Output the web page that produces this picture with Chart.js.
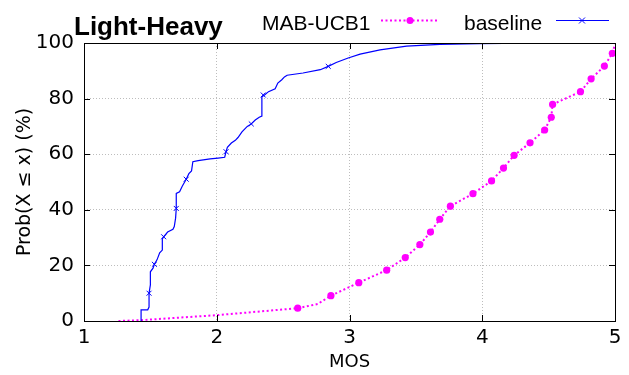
<!DOCTYPE html>
<html>
<head>
<meta charset="utf-8">
<script src="https://cdn.jsdelivr.net/npm/chart.js@4"></script>
<style>
  html, body { margin: 0; padding: 0; background: #fff; }
  #wrap { position: relative; width: 629px; height: 375px; }
  #wrap canvas { position: absolute; left: 0; top: 0; }
  .txt { position: absolute; white-space: nowrap; color: #000; font-family: 'Liberation Sans', Arial, sans-serif; }
  #titulo { left: 74px; top: 13px; font-size: 26px; line-height: 26px; font-weight: bold; }
  .leg { font-size: 21px; line-height: 21px; top: 12px; }
</style>
</head>
<body>
<div id="wrap">
  <canvas id="grafico" width="629" height="375"></canvas>
  <div class="txt" id="titulo">Light-Heavy</div>
  <div class="txt leg" style="left:262px">MAB-UCB1</div>
  <div class="txt leg" style="left:464px">baseline</div>
</div>
<script>
// eixo
const xTicks = [1, 2, 3, 4, 5]
const yTicks = [0, 20, 40, 60, 80, 100]

// baseline (curva em degraus)
const baseMos  = [1.43, 1.43, 1.48, 1.49, 1.49, 1.50, 1.50, 1.52, 1.53, 1.55, 1.57, 1.59, 1.59, 1.60, 1.63, 1.67, 1.68, 1.69, 1.695, 1.695,
                  1.72, 1.74, 1.77, 1.79, 1.81, 1.82, 1.86, 1.95, 2.01, 2.06, 2.07, 2.08, 2.11, 2.14, 2.16, 2.19, 2.21, 2.23, 2.26, 2.29,
                  2.32, 2.34, 2.34, 2.36, 2.39, 2.44, 2.46, 2.49, 2.51, 2.53, 2.65, 2.78, 2.84, 2.90, 2.99, 3.08, 3.23, 3.43, 3.68, 3.98, 4.53]
const baseProb = [0, 4, 4, 5, 10, 13, 17.7, 19, 20.4, 22, 24.5, 25.5, 29.5, 30.3, 32, 33, 34, 37, 40.5, 45.9,
                  46.5, 48.5, 51, 53, 54, 57.3, 57.7, 58.3, 58.6, 58.9, 60.9, 62.5, 64, 65, 66, 68, 69, 70, 70.9, 72.3,
                  73.3, 73.7, 80.7, 81.3, 82.5, 83.5, 85.6, 86.8, 87.8, 88.4, 89.2, 90.4, 91.6, 93, 94.6, 96, 97.5, 98.9, 99.5, 99.8, 100]
const baseMarcaMos  = [1.49, 1.53, 1.60, 1.695, 1.77, 2.07, 2.26, 2.35, 2.84]
const baseMarcaProb = [10, 20.4, 30.3, 40.5, 51, 60.9, 70.9, 81.3, 91.6]

// MAB-UCB1
const ucbMos  = [1.26, 1.43, 2.0, 2.61, 2.76, 2.86, 3.07, 3.28, 3.42, 3.53, 3.61, 3.68, 3.76, 3.93, 4.07, 4.16, 4.24, 4.36, 4.47, 4.52, 4.53, 4.74, 4.82, 4.92, 4.98, 5.0]
const ucbProb = [0, 0.3, 2.1, 4.6, 6.1, 9.1, 13.8, 18.3, 22.8, 27.5, 32.0, 36.6, 41.3, 45.8, 50.4, 55.0, 59.6, 64.1, 68.7, 73.3, 77.9, 82.5, 87.1, 91.7, 96.3, 99.5]
const ucbMarcaMos  = [2.61, 2.86, 3.07, 3.28, 3.42, 3.53, 3.61, 3.68, 3.76, 3.93, 4.07, 4.16, 4.24, 4.36, 4.47, 4.52, 4.53, 4.74, 4.82, 4.92, 4.98]
const ucbMarcaProb = [4.6, 9.1, 13.8, 18.3, 22.8, 27.5, 32.0, 36.6, 41.3, 45.8, 50.4, 55.0, 59.6, 64.1, 68.7, 73.3, 77.9, 82.5, 87.1, 91.7, 96.3]

const AZUL = '#0000ff'
const MAGENTA = '#ff00ff'
const pares = (xs, ys) => xs.map((x, i) => ({ x, y: ys[i] }))

const molduraPlugin = {
  id: 'moldura',
  afterDraw(chart) {
    const { ctx, chartArea: a, scales } = chart
    ctx.save()
    ctx.strokeStyle = '#000'
    ctx.lineWidth = 1
    ctx.setLineDash([])
    ctx.beginPath()
    for (const v of yTicks) {
      const y = Math.round(scales.y.getPixelForValue(v)) + 0.5
      ctx.moveTo(a.left, y); ctx.lineTo(a.left + 6, y)
      ctx.moveTo(a.right, y); ctx.lineTo(a.right - 6, y)
    }
    for (const v of xTicks) {
      const x = Math.round(scales.x.getPixelForValue(v)) + 0.5
      ctx.moveTo(x, a.bottom); ctx.lineTo(x, a.bottom - 6)
      ctx.moveTo(x, a.top); ctx.lineTo(x, a.top + 6)
    }
    ctx.stroke()
    ctx.strokeRect(Math.round(a.left) + 0.5, Math.round(a.top) + 0.5, Math.round(a.right - a.left), Math.round(a.bottom - a.top))

    // amostras da legenda
    const yl = 20.5
    ctx.strokeStyle = MAGENTA
    ctx.lineWidth = 2
    ctx.setLineDash([2, 2.5])
    ctx.beginPath(); ctx.moveTo(381, yl); ctx.lineTo(438, yl); ctx.stroke()
    ctx.setLineDash([])
    ctx.fillStyle = MAGENTA
    ctx.beginPath(); ctx.arc(410, yl, 3.5, 0, Math.PI * 2); ctx.fill()

    ctx.strokeStyle = AZUL
    ctx.lineWidth = 1
    ctx.beginPath(); ctx.moveTo(556, yl); ctx.lineTo(609, yl); ctx.stroke()
    ctx.beginPath()
    ctx.moveTo(579, yl - 3); ctx.lineTo(585, yl + 3)
    ctx.moveTo(585, yl - 3); ctx.lineTo(579, yl + 3)
    ctx.stroke()
    ctx.restore()
  }
}

const gradeCor = (min, max) => c => (c.tick && (c.tick.value === min || c.tick.value === max)) ? 'rgba(0,0,0,0)' : '#bdbdbd'

new Chart(document.getElementById('grafico'), {
  type: 'scatter',
  data: {
    datasets: [
      { label: 'baseline', data: pares(baseMos, baseProb), showLine: true, borderColor: AZUL, borderWidth: 1.2, pointRadius: 0, fill: false },
      { label: 'baseline-marcas', data: pares(baseMarcaMos, baseMarcaProb), showLine: false, pointStyle: 'crossRot', pointRadius: 3.5, borderColor: AZUL, borderWidth: 1 },
      { label: 'MAB-UCB1', data: pares(ucbMos, ucbProb), showLine: true, borderColor: MAGENTA, borderWidth: 2, borderDash: [2, 2.5], pointRadius: 0, fill: false },
      { label: 'MAB-UCB1-marcas', data: pares(ucbMarcaMos, ucbMarcaProb), showLine: false, pointStyle: 'circle', pointRadius: 3.6, backgroundColor: MAGENTA, borderWidth: 0 },
    ],
  },
  options: {
    responsive: false,
    animation: false,
    events: [],
    layout: { padding: { top: 43, right: 14, left: 0, bottom: 0 } },
    plugins: { legend: { display: false }, tooltip: { enabled: false } },
    scales: {
      x: {
        type: 'linear', min: 1, max: 5,
        afterFit: s => { s.height = 54 },
        afterBuildTicks: s => { s.ticks = xTicks.map(v => ({ value: v })) },
        grid: { color: gradeCor(1, 5), lineWidth: 1, drawTicks: false },
        border: { display: false, dash: [1, 2] },
        ticks: { color: '#000', padding: 5, font: { family: 'DejaVu Sans', size: 20 } },
        title: { display: true, text: 'MOS', color: '#000', padding: { top: 0, bottom: 2 }, font: { family: 'DejaVu Sans', size: 18 } },
      },
      y: {
        min: 0, max: 100,
        afterFit: s => { s.width = 84 },
        afterBuildTicks: s => { s.ticks = yTicks.map(v => ({ value: v })) },
        grid: { color: gradeCor(0, 100), lineWidth: 1, drawTicks: false },
        border: { display: false, dash: [1, 2] },
        ticks: { color: '#000', padding: 10, font: { family: 'DejaVu Sans', size: 20 } },
        title: { display: true, text: 'Prob(X ≤ x) (%)', color: '#000', padding: { top: 14, bottom: 0 }, font: { family: 'DejaVu Sans', size: 19 } },
      },
    },
  },
  plugins: [molduraPlugin],
})
</script>
</body>
</html>
